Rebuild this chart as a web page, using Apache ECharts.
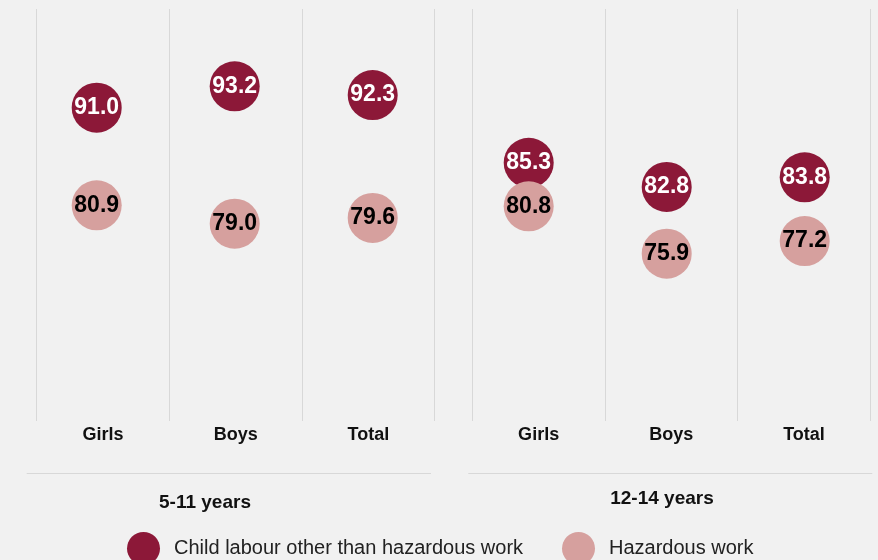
<!DOCTYPE html>
<html>
<head>
<meta charset="utf-8">
<script src="https://cdn.jsdelivr.net/npm/echarts@6/dist/echarts.min.js"></script>
<style>
html,body{margin:0;padding:0;background:#f1f1f1;}
#chart{width:878px;height:560px;}
</style>
</head>
<body>
<div id="chart"></div>
<script>
const categories = ['Girls', 'Boys', 'Total'];
const groupLabels = ['5-11 years', '12-14 years'];
const seriesNames = ['Child labour other than hazardous work', 'Hazardous work'];
const childLabour_5_11 = [91.0, 93.2, 92.3];
const hazardous_5_11 = [80.9, 79.0, 79.6];
const childLabour_12_14 = [85.3, 82.8, 83.8];
const hazardous_12_14 = [80.8, 75.9, 77.2];

const DARK = '#8c1838';
const LIGHT = '#d6a09e';
const FONT = '"Liberation Sans", Arial, Helvetica, sans-serif';

const chart = echarts.init(document.getElementById('chart'));

function frameX(gi) {
  return {
    type: 'category', gridIndex: gi, data: categories, boundaryGap: true,
    axisLine: {show: false}, axisTick: {show: false},
    splitLine: {show: true, interval: 0, lineStyle: {color: '#d8d8d8', width: 1}},
    axisLabel: {fontFamily: FONT, fontSize: 18, fontWeight: 'bold', color: '#111', margin: 5}
  };
}
function dataX(gi) {
  return {type: 'category', gridIndex: gi, data: categories, boundaryGap: true, show: false};
}
function frameY(gi) {
  return {type: 'value', gridIndex: gi, min: 0, max: 1, show: false, splitLine: {show: false}};
}
function dataY(gi) {
  return {type: 'value', gridIndex: gi, min: 58.6, max: 101.2, show: false, splitLine: {show: false}};
}
function dotSeries(name, data, gi, color, textColor) {
  return {
    type: 'scatter', name: name, xAxisIndex: gi, yAxisIndex: gi, data: data,
    symbol: 'circle', symbolSize: 50, itemStyle: {color: color, opacity: 1},
    label: {show: true, position: 'inside', fontFamily: FONT, fontSize: 23, fontWeight: 'bold',
      color: textColor, formatter: p => Number(p.value).toFixed(1)},
    emphasis: {disabled: true}, animation: false
  };
}

const option = {
  backgroundColor: '#f1f1f1',
  animation: false,
  grid: [
    {left: 36.7, width: 398, top: 9, height: 412},
    {left: 472.3, width: 398, top: 9, height: 412},
    {left: 27.7, width: 414, top: 9, height: 412},
    {left: 459.7, width: 414, top: 9, height: 412}
  ],
  xAxis: [frameX(0), frameX(1), dataX(2), dataX(3)],
  yAxis: [frameY(0), frameY(1), dataY(2), dataY(3)],
  legend: [
    {data: [seriesNames[0]], left: 122, top: 527, itemWidth: 33, itemHeight: 33, icon: 'circle',
      textStyle: {fontFamily: FONT, fontSize: 20, color: '#222', padding: [0, 0, 0, 9]}, selectedMode: false},
    {data: [seriesNames[1]], left: 557, top: 527, itemWidth: 33, itemHeight: 33, icon: 'circle',
      textStyle: {fontFamily: FONT, fontSize: 20, color: '#222', padding: [0, 0, 0, 9]}, selectedMode: false}
  ],
  graphic: [
    {type: 'line', shape: {x1: 26.7, y1: 473.5, x2: 431, y2: 473.5}, style: {stroke: '#d8d8d8', lineWidth: 1}},
    {type: 'line', shape: {x1: 468.3, y1: 473.5, x2: 872.3, y2: 473.5}, style: {stroke: '#d8d8d8', lineWidth: 1}},
    {type: 'text', x: 205, y: 502.5, style: {text: groupLabels[0], fontFamily: FONT, fontSize: 19, fontWeight: 'bold', fill: '#111', align: 'center', verticalAlign: 'middle'}},
    {type: 'text', x: 662, y: 499, style: {text: groupLabels[1], fontFamily: FONT, fontSize: 19, fontWeight: 'bold', fill: '#111', align: 'center', verticalAlign: 'middle'}}
  ],
  series: [
    dotSeries(seriesNames[0], childLabour_5_11, 2, DARK, '#fff'),
    dotSeries(seriesNames[1], hazardous_5_11, 2, LIGHT, '#000'),
    dotSeries(seriesNames[0], childLabour_12_14, 3, DARK, '#fff'),
    dotSeries(seriesNames[1], hazardous_12_14, 3, LIGHT, '#000')
  ]
};
chart.setOption(option);
</script>
</body>
</html>
